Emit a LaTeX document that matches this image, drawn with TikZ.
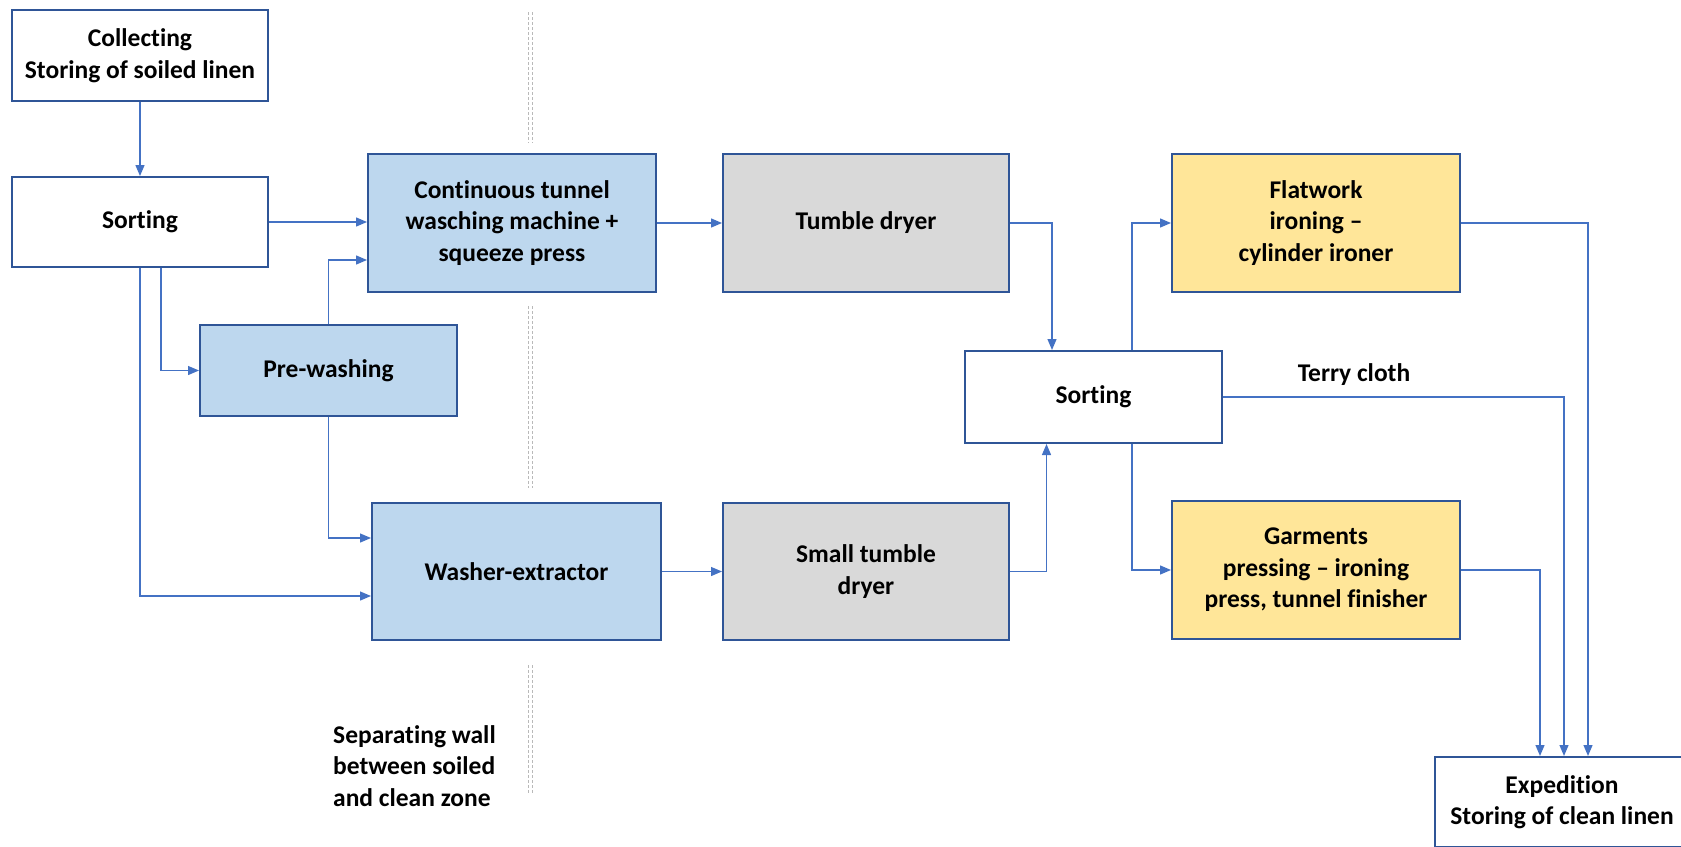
\documentclass[tikz,border=0pt]{standalone}
\usepackage{fontspec}
\setmainfont{Carlito}[Ligatures={NoCommon,TeX}]
\usetikzlibrary{arrows.meta}
\definecolor{bord}{HTML}{2F5597}
\definecolor{arr}{HTML}{4472C4}
\definecolor{bluefill}{HTML}{BDD7EE}
\definecolor{greyfill}{HTML}{D9D9D9}
\definecolor{yellowfill}{HTML}{FFE699}
\tikzset{
 box/.style={draw=bord, line width=2pt, rectangle, inner sep=0pt, align=center, font=\bfseries\fontsize{25.5}{31.5}\selectfont, text=black},
 lbl/.style={inner sep=0pt, font=\bfseries\fontsize{25.5}{31.5}\selectfont, text=black},
 flow/.style={draw=arr, line width=1.3pt, -{Triangle[length=11pt,width=9pt]}},
 wall/.style={draw=gray!55, line width=0.7pt, dash pattern=on 3pt off 2pt},
}
\begin{document}
\begin{tikzpicture}[x=1pt,y=-1pt]
\useasboundingbox (0,0) rectangle (1681,846);
\clip (0,0) rectangle (1681,846);
% wall
\foreach \xx in {528,532}{
  \draw[wall] (\xx,12) -- (\xx,143);
  \draw[wall] (\xx,306) -- (\xx,488);
  \draw[wall] (\xx,665) -- (\xx,793);
}
\node[lbl, align=left, anchor=west] (walltxt) at (333,766) {Separating wall\\between soiled\\and clean zone};
% boxes
\node[box, fill=white, minimum width=256pt, minimum height=91pt] (coll) at (140,55.5) {Collecting\\Storing of soiled linen};
\node[box, fill=white, minimum width=256pt, minimum height=90pt] (sort1) at (140,222) {Sorting};
\node[box, fill=bluefill, minimum width=288pt, minimum height=138pt] (tunnel) at (512,223) {Continuous tunnel\\wasching machine +\\squeeze press};
\node[box, fill=greyfill, minimum width=286pt, minimum height=138pt] (tumble) at (866,223) {Tumble dryer};
\node[box, fill=yellowfill, minimum width=288pt, minimum height=138pt] (flat) at (1316,223) {Flatwork\\ironing --\\cylinder ironer};
\node[box, fill=bluefill, minimum width=257pt, minimum height=91pt] (pre) at (328.5,370.5) {Pre-washing};
\node[box, fill=white, minimum width=257pt, minimum height=92pt] (sort2) at (1093.5,397) {Sorting};
\node[box, fill=bluefill, minimum width=289pt, minimum height=137pt] (washer) at (516.5,571.5) {Washer-extractor};
\node[box, fill=greyfill, minimum width=286pt, minimum height=137pt] (small) at (866,571.5) {Small tumble\\dryer};
\node[box, fill=yellowfill, minimum width=288pt, minimum height=138pt] (garm) at (1316,570) {Garments\\pressing -- ironing\\press, tunnel finisher};
\node[box, fill=white, minimum width=254pt, minimum height=90pt] (exp) at (1562,802) {Expedition\\Storing of clean linen};
% connectors
\draw[flow] (coll.south) -- (sort1.north);
\draw[flow] (sort1.east) -- (sort1.east -| tunnel.west);
\draw[flow] ([xshift=21pt]sort1.south) |- (pre.west);
\draw[flow] (sort1.south) |- ([yshift=-24.5pt]washer.west);
\draw[flow] (pre.north) |- ([yshift=-37pt]tunnel.west);
\draw[flow] (pre.south) |- ([yshift=33.5pt]washer.west);
\draw[flow] (tunnel.east) -- (tumble.west);
\draw[flow] (washer.east) -- (small.west);
\draw[flow] (tumble.east) -| ([xshift=-41.5pt]sort2.north);
\draw[flow] (small.east) -| ([xshift=-47pt]sort2.south);
\draw[flow] ([xshift=38.5pt]sort2.north) |- (flat.west);
\draw[flow] ([xshift=38.5pt]sort2.south) |- (garm.west);
\draw[flow] (flat.east) -| ([xshift=26pt]exp.north);
\draw[flow] (sort2.east) -| ([xshift=2pt]exp.north);
\draw[flow] (garm.east) -| ([xshift=-22pt]exp.north);
\node[lbl] (terry) at (1354,375) {Terry cloth};
\end{tikzpicture}
\end{document}
